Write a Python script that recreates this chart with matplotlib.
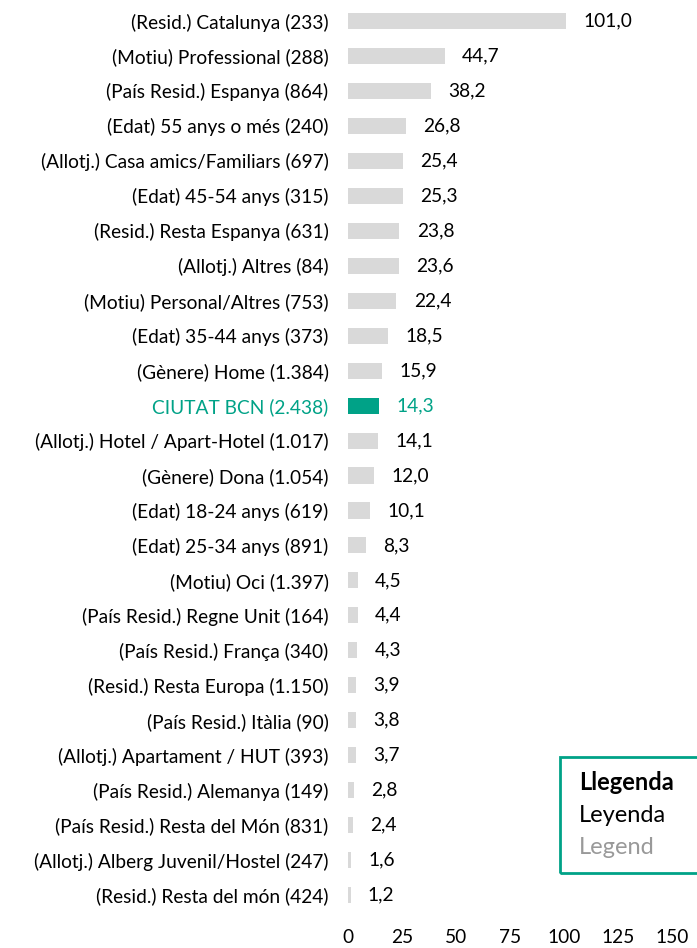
import matplotlib.pyplot as plt
from matplotlib.patches import Rectangle

plt.rcParams['font.family'] = ['Lato', 'DejaVu Sans']

labels = [
    "(Resid.) Catalunya (233)", "(Motiu) Professional (288)", "(País Resid.) Espanya (864)",
    "(Edat) 55 anys o més (240)", "(Allotj.) Casa amics/Familiars (697)", "(Edat) 45-54 anys (315)",
    "(Resid.) Resta Espanya (631)", "(Allotj.) Altres (84)", "(Motiu) Personal/Altres (753)",
    "(Edat) 35-44 anys (373)", "(Gènere) Home (1.384)", "CIUTAT BCN (2.438)",
    "(Allotj.) Hotel / Apart-Hotel (1.017)", "(Gènere) Dona (1.054)", "(Edat) 18-24 anys (619)",
    "(Edat) 25-34 anys (891)", "(Motiu) Oci (1.397)", "(País Resid.) Regne Unit (164)",
    "(País Resid.) França (340)", "(Resid.) Resta Europa (1.150)", "(País Resid.) Itàlia (90)",
    "(Allotj.) Apartament / HUT (393)", "(País Resid.) Alemanya (149)",
    "(País Resid.) Resta del Món (831)", "(Allotj.) Alberg Juvenil/Hostel (247)",
    "(Resid.) Resta del món (424)",
]
values = [101.0, 44.7, 38.2, 26.8, 25.4, 25.3, 23.8, 23.6, 22.4, 18.5, 15.9, 14.3,
          14.1, 12.0, 10.1, 8.3, 4.5, 4.4, 4.3, 3.9, 3.8, 3.7, 2.8, 2.4, 1.6, 1.2]
highlight = "CIUTAT BCN (2.438)"
xticks = [0, 25, 50, 75, 100, 125, 150]

teal = "#00A287"
grey = "#D9D9D9"
fs = 13.8

fig = plt.figure(figsize=(6.97, 9.48), dpi=100)
ax = fig.add_axes([0.4993, 0.0374, 0.4649, 0.9589])

ypos = list(range(len(labels)))
colors = [teal if l == highlight else grey for l in labels]
ax.barh(ypos, values, height=0.46, color=colors)
ax.set_ylim(len(labels) - 0.5, -0.5)
ax.set_xlim(0, 150)

for y, v, l in zip(ypos, values, labels):
    c = teal if l == highlight else "black"
    ax.text(v + 8, y, f"{v:.1f}".replace(".", ","), va="center", ha="left",
            fontsize=fs, color=c)

ax.set_yticks(ypos)
ax.set_yticklabels(labels, fontsize=fs)
for t in ax.get_yticklabels():
    if t.get_text() == highlight:
        t.set_color(teal)
ax.set_xticks(xticks)
ax.set_xticklabels([str(x) for x in xticks], fontsize=fs)
ax.tick_params(axis="y", length=0, pad=14)
ax.tick_params(axis="x", length=0, pad=12)
for s in ax.spines.values():
    s.set_visible(False)

# caixa de llegenda
fig.patches.append(Rectangle((560 / 697, 1 - 873 / 948), 140 / 697, 116 / 948,
                             transform=fig.transFigure, fill=False,
                             edgecolor=teal, linewidth=2))
fig.text(579 / 697, 1 - 782 / 948, "Llegenda", fontsize=17, fontweight="bold", va="center")
fig.text(579 / 697, 1 - 815 / 948, "Leyenda", fontsize=17, va="center")
fig.text(579 / 697, 1 - 847 / 948, "Legend", fontsize=17, va="center", color="#999999")

fig.savefig("out.png", dpi=100)
